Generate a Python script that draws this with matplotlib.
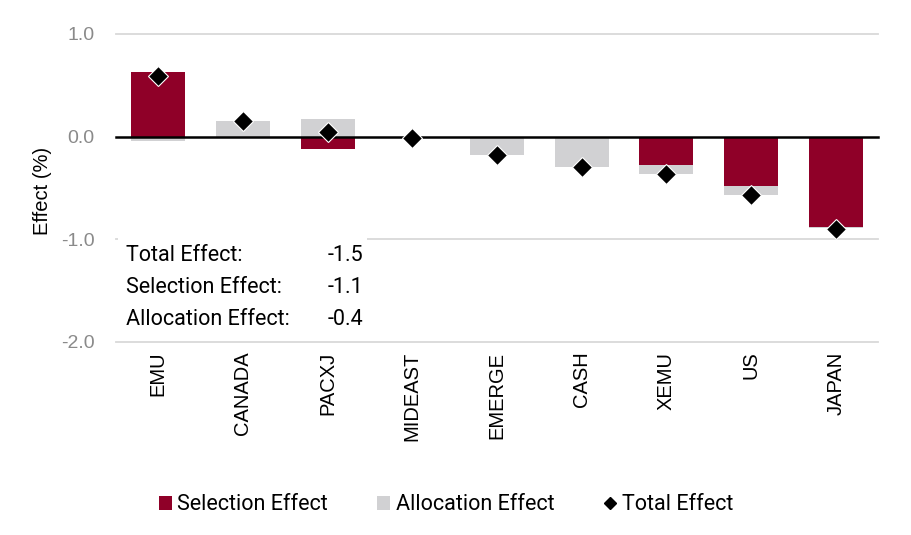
import numpy as np
import matplotlib
matplotlib.use("Agg")
import matplotlib.pyplot as plt
from matplotlib.patches import Rectangle, Patch
from matplotlib.lines import Line2D

categories = ["EMU", "CANADA", "PACXJ", "MIDEAST", "EMERGE", "CASH", "XEMU", "US", "JAPAN"]
selection = [0.63, 0.0, -0.12, 0.0, 0.0, 0.0, -0.28, -0.485, -0.88]
allocation = [-0.04, 0.15, 0.17, 0.0, -0.175, -0.30, -0.08, -0.085, -0.01]
total = [0.59, 0.15, 0.05, -0.01, -0.18, -0.30, -0.36, -0.57, -0.895]
yticks = [1.0, 0.0, -1.0, -2.0]
ytick_labels = ["1.0", "0.0", "-1.0", "-2.0"]
summary_labels = ["Total Effect:", "Selection Effect:", "Allocation Effect:"]
summary_values = ["-1.5", "-1.1", "-0.4"]

RED = "#8F0028"
GREY = "#D1D1D3"
GRID = "#D9D9D9"
TICKGREY = "#8A8A8A"
DIN = ["Roboto", "DejaVu Sans"]
ARIAL = ["Liberation Sans", "DejaVu Sans"]

fig = plt.figure(figsize=(9.12, 5.35), dpi=100)
ax = fig.add_axes([116/912, 1-342/535, 762/912, 308/535])

x = np.arange(len(categories))
sel = np.array(selection)
alc = np.array(allocation)
alc_bottom = np.where(np.sign(alc) == np.sign(sel), sel, 0.0)

w = 0.64
ax.bar(x, sel, width=w, color=RED, zorder=3)
ax.bar(x, alc, width=w, bottom=alc_bottom, color=GREY, zorder=3)
ax.plot(x, total, linestyle="none", marker="D", markersize=10.5, color="black",
        markeredgecolor="white", markeredgewidth=0.8, zorder=5)

ax.set_xlim(-0.5, len(categories) - 0.5)
ax.set_ylim(-2.0, 1.0)

for yv in yticks:
    if yv == 0:
        ax.axhline(0, color="black", lw=1.8, zorder=4, clip_on=False)
    else:
        ax.axhline(yv, color=GRID, lw=1.3, zorder=1, clip_on=False)

for s in ax.spines.values():
    s.set_visible(False)

ax.set_yticks(yticks)
ax.set_yticklabels(ytick_labels, fontsize=14, color=TICKGREY, family=ARIAL)
ax.set_xticks(x)
ax.set_xticklabels(categories, rotation=90, fontsize=14.5, family=ARIAL, color="black")
ax.tick_params(axis="both", length=0)
ax.tick_params(axis="y", pad=15.5)
ax.tick_params(axis="x", pad=7)

fig.text(43/912, 1-191/535, "Effect (%)", rotation=90, ha="center", va="center",
         fontsize=14.5, family=ARIAL, color="black")

# summary box
ax.add_patch(Rectangle((0.003, -1.95), 0.326, 0.98, transform=ax.get_yaxis_transform(),
                       facecolor="white", edgecolor="none", zorder=2))
row_y = [-1.214, -1.524, -1.835]
for lab, val, yy in zip(summary_labels, summary_values, row_y):
    ax.text(0.013, yy, lab, transform=ax.get_yaxis_transform(), fontsize=15.5,
            family=DIN, va="baseline", ha="left", zorder=6)
    ax.text(0.278, yy, val, transform=ax.get_yaxis_transform(), fontsize=15.5,
            family=DIN, va="baseline", ha="left", zorder=6)

handles = [
    Patch(facecolor=RED, edgecolor="none", label="Selection Effect"),
    Patch(facecolor=GREY, edgecolor="none", label="Allocation Effect"),
    Line2D([], [], linestyle="none", marker="D", markersize=6, color="black", label="Total Effect"),
]
fig.legend(handles=handles, loc="center", bbox_to_anchor=(446/912, 1-505/535), ncol=3,
           frameon=False, prop={"family": DIN, "size": 15.5}, handlelength=0.6,
           handleheight=0.6, handletextpad=0.25, columnspacing=2.3)

fig.savefig("out.png", dpi=100)
